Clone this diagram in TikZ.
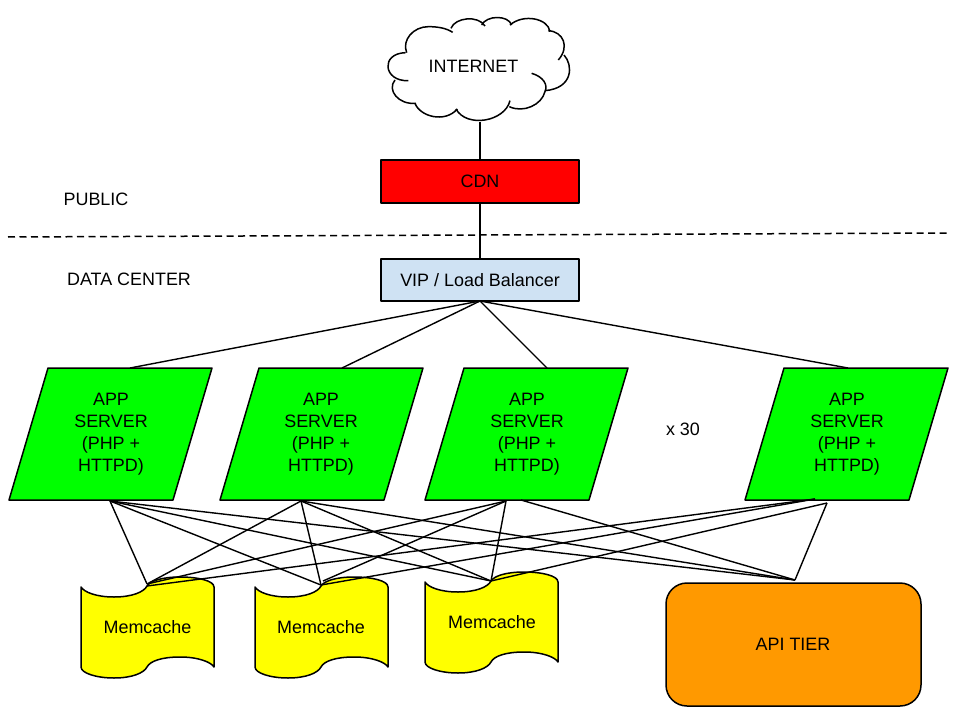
\documentclass[tikz,border=0pt]{standalone}
\usepackage{fontspec}
\setmainfont{Liberation Sans}
\tikzset{
  x=1bp,y=-1bp,
  ln/.style={line width=1.5bp,black,line join=round},
  wire/.style={line width=1.4bp,black},
  shp/.style={line width=1.5bp,draw=black,line join=round},
  lbl/.style={font=\fontsize{18}{22.2}\selectfont,align=center,inner sep=0pt,text=black},
}
\newcommand{\appbox}[2]{% left-bottom x, name
  \fill[green!100!black,shp,fill={rgb,255:red,0;green,255;blue,0}] (#1+39,368) -- (#1+203,368) -- (#1+164,500) -- (#1,500) -- cycle;
}
\newcommand{\tapeshape}[2]{% left x, y shift
  \begin{scope}[shift={(#1,#2)}]
  \draw[shp,fill={rgb,255:red,255;green,255;blue,0}] (0,587) .. controls (3,592) and (15,597) .. (33,597)
    .. controls (51,597) and (63,592) .. (66,586)
    .. controls (69,581) and (81,577) .. (99,577)
    .. controls (118,577) and (133,581) .. (133,587)
    -- (133,667)
    .. controls (130,662) and (117,657) .. (99,657)
    .. controls (81,657) and (69,661) .. (66,667)
    .. controls (63,673) and (51,678) .. (33,678)
    .. controls (15,678) and (0,673) .. (0,667) -- cycle;
  \end{scope}
}
\begin{document}
\begin{tikzpicture}
\useasboundingbox (0,0) rectangle (960,720);
\fill[white] (0,0) rectangle (960,720);
% cloud
\begin{scope}[shift={(370,10)},x=0.3333bp,y=-0.3333bp]
\fill[white] (110,128) .. controls (95,90) and (130,50) .. (175,50) .. controls (205,50) and (230,55) .. (248,67)
  .. controls (245,35) and (320,15) .. (345,48) .. controls (360,15) and (415,15) .. (425,45)
  .. controls (460,10) and (535,25) .. (540,65) .. controls (580,65) and (600,110) .. (565,150)
  .. controls (610,165) and (610,235) .. (525,242) .. controls (520,285) and (460,310) .. (418,290)
  .. controls (400,340) and (290,355) .. (260,297) .. controls (225,340) and (150,320) .. (135,280)
  .. controls (85,285) and (50,240) .. (75,210) .. controls (45,195) and (50,130) .. (110,128) -- cycle;
\draw[ln] (110,128) .. controls (95,90) and (130,50) .. (175,50) .. controls (205,50) and (230,55) .. (248,67);
\draw[ln] (243,55) .. controls (255,22) and (325,15) .. (345,48);
\draw[ln] (335,45) .. controls (350,15) and (415,15) .. (425,45);
\draw[ln] (420,45) .. controls (460,10) and (535,25) .. (540,65);
\draw[ln] (535,62) .. controls (580,65) and (600,110) .. (565,150);
\draw[ln] (582,135) .. controls (610,165) and (610,235) .. (525,242);
\draw[ln] (485,190) .. controls (520,200) and (535,225) .. (525,245) .. controls (515,285) and (460,310) .. (418,290);
\draw[ln] (420,272) .. controls (405,335) and (290,355) .. (258,297);
\draw[ln] (262,297) .. controls (225,340) and (150,320) .. (135,280);
\draw[ln] (138,280) .. controls (85,285) and (50,240) .. (75,210);
\draw[ln] (115,212) .. controls (40,215) and (30,130) .. (107,128);
\end{scope}
\coordinate (cloudbot) at (480,122);
\node[lbl] (internet) at (473.5,66) {INTERNET};
% boxes
\draw[shp,fill={rgb,255:red,255;green,0;blue,0}] (381,160) rectangle (579,203);
\coordinate (cdntop) at (480,160);
\coordinate (cdnbot) at (480,203);
\node[lbl] (cdn) at (480,181) {CDN};
\draw[shp,fill={rgb,255:red,207;green,226;blue,243}] (381,259) rectangle (579,301);
\coordinate (viptop) at (480,259);
\coordinate (vipbot) at (480,301);
\node[lbl] (vip) at (480,280) {VIP / Load Balancer};
% labels
\node[lbl] (public) at (96,199) {PUBLIC};
\node[lbl] (dc) at (129,279) {DATA CENTER};
\coordinate (dashl) at (8,237);
\coordinate (dashr) at (948,233);
\draw[ln,dash pattern=on 7bp off 4.5bp] (dashl) -- (dashr);
% app servers
\appbox{9}{a}
\appbox{220}{b}
\appbox{425}{c}
\appbox{745}{d}
\node[lbl] (app1) at (111,434) {APP\\SERVER\\(PHP +\\HTTPD)};
\node[lbl] (app2) at (321,434) {APP\\SERVER\\(PHP +\\HTTPD)};
\node[lbl] (app3) at (527,434) {APP\\SERVER\\(PHP +\\HTTPD)};
\node[lbl] (app4) at (847,434) {APP\\SERVER\\(PHP +\\HTTPD)};
\node[lbl] (x30) at (683,429) {x 30};
\coordinate (a1t) at (130,368);
\coordinate (a2t) at (342,368);
\coordinate (a3t) at (547,368);
\coordinate (a4t) at (848,368);
\coordinate (a1b) at (110,501);
\coordinate (a2b) at (301,501);
\coordinate (a3b) at (506,501);
\coordinate (a3c) at (521,500);
\coordinate (a4b) at (815,499);
\coordinate (a4c) at (827,503);
% memcache
\tapeshape{81}{0}
\tapeshape{255}{0}
\tapeshape{425}{-5}
\node[lbl] (m1) at (147.5,627) {Memcache};
\node[lbl] (m2) at (321,627) {Memcache};
\node[lbl] (m3) at (492,622) {Memcache};
\coordinate (m1t) at (147,584);
\coordinate (m1u) at (147,586);
\coordinate (m2t) at (321,585);
\coordinate (m2u) at (323,581);
\coordinate (m3t) at (491,581);
% api
\draw[shp,rounded corners=21bp,fill={rgb,255:red,255;green,153;blue,0}] (666,583) rectangle (921,706);
\node[lbl] (api) at (793,644) {API TIER};
\coordinate (apit) at (795,580);
% connectors
\draw[wire] (cloudbot) -- (cdntop);
\draw[wire] (cdnbot) -- (viptop);
\foreach \t in {a1t,a2t,a3t,a4t} \draw[wire] (vipbot) -- (\t);
\foreach \t in {m1t,m2t,m3t,apit} \draw[wire] (a1b) -- (\t);
\foreach \t in {m1t,m2t,m3t,apit} \draw[wire] (a2b) -- (\t);
\foreach \t in {m1t,m2u,m3t} \draw[wire] (a3b) -- (\t);
\draw[wire] (a3c) -- (apit);
\draw[wire] (a4b) -- (m1u);
\draw[wire] (a4b) -- (m2t);
\draw[wire] (a4c) -- (m3t);
\draw[wire] (a4c) -- (apit);
\end{tikzpicture}
\end{document}
